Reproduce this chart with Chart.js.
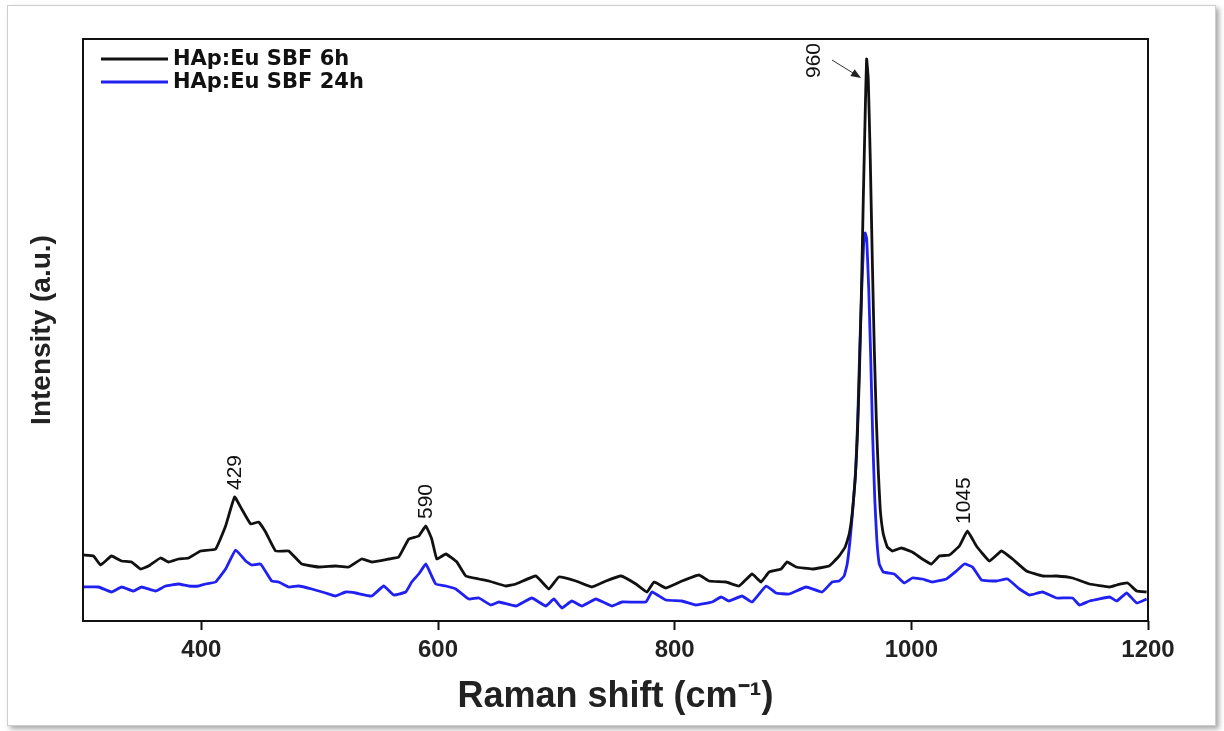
<!DOCTYPE html>
<html>
<head>
<meta charset="utf-8">
<title>Raman HAp:Eu SBF</title>
<script src="https://cdn.jsdelivr.net/npm/chart.js@4/dist/chart.umd.min.js"></script>
<style>
    html, body { margin: 0; padding: 0; background: #fff; }
    #frame {
        position: absolute; left: 7px; top: 5px; width: 1207px; height: 719px;
        border: 1px solid #cfcfcf; background: #fff;
        box-shadow: 3px 3px 5px rgba(0, 0, 0, 0.35);
    }
    #wrap { position: absolute; left: 0; top: 0; width: 1224px; height: 731px; }
</style>
</head>
<body>
<div id="frame"></div>
<div id="wrap"><canvas id="ramanChart" width="1224" height="731"></canvas></div>
<script>
// Raman shift (cm-1) / intensity (a.u.)
const shift6h = [300.4, 308.9, 314.8, 324.1, 332.6, 341.0, 348.6, 355.4, 365.5, 372.3,
    380.8, 389.2, 399.4, 412.1, 420.5, 428.1, 434.1, 441.7, 448.4, 454.3,
    462.8, 473.8, 484.8, 499.2, 513.5, 524.5, 535.5, 544.0, 558.4, 566.8,
    575.3, 583.8, 589.7, 594.7, 599.0, 606.6, 615.9, 623.5, 634.5, 643.0,
    657.3, 665.8, 682.7, 693.7, 702.1, 716.5, 730.0, 741.9, 754.6, 767.3,
    776.6, 782.5, 792.6, 806.2, 820.5, 829.0, 843.4, 854.4, 865.4, 873.0,
    879.8, 889.9, 895.0, 902.6, 916.2, 930.5, 939.0, 944.1, 947.5, 950.0,
    952.6, 954.3, 956.0, 957.7, 959.4, 961.1, 962.2, 963.6, 965.3, 967.0,
    968.7, 970.4, 972.0, 973.7, 976.3, 979.7, 983.9, 991.5, 1000.8, 1009.3,
    1016.9, 1023.7, 1032.1, 1040.6, 1047.4, 1055.0, 1066.0, 1076.2, 1085.5, 1097.3,
    1110.9, 1122.7, 1136.2, 1150.6, 1167.5, 1173.5, 1182.8, 1190.4, 1198.8];
const int6h = [66, 65, 56, 65, 60, 59, 52, 55, 63, 59,
    62, 63, 70, 72, 95, 124, 112, 97, 99, 89,
    70, 70, 57, 54, 55, 54, 62, 59, 62, 64,
    82, 85, 95, 82, 62, 67, 59, 45, 42, 40,
    35, 37, 45, 32, 44, 40, 34, 40, 45, 37,
    29, 39, 33, 40, 46, 40, 39, 35, 47, 39,
    49, 52, 59, 54, 52, 55, 65, 74, 87, 107,
    142, 182, 242, 322, 422, 512, 562, 542, 462, 362,
    272, 202, 152, 112, 87, 74, 70, 73, 69, 62,
    57, 65, 66, 75, 90, 75, 60, 70, 62, 50,
    45, 45, 43, 37, 34, 36, 38, 30, 29];

const shift24h = [300.4, 313.1, 324.1, 332.6, 342.7, 349.5, 361.3, 369.8, 380.8, 389.2,
    397.7, 403.6, 412.1, 420.5, 429.0, 437.5, 442.5, 450.1, 459.4, 465.3,
    473.8, 482.3, 493.3, 505.1, 513.5, 522.0, 530.5, 544.0, 554.1, 562.6,
    572.7, 577.8, 583.7, 589.7, 593.9, 598.1, 606.6, 615.0, 626.0, 634.5,
    644.6, 651.4, 665.8, 679.3, 691.1, 697.9, 704.7, 713.1, 721.6, 733.4,
    747.0, 755.4, 775.7, 780.8, 792.6, 806.2, 818.0, 831.6, 839.2, 845.9,
    856.9, 865.4, 877.3, 885.7, 896.7, 911.1, 924.6, 933.1, 939.0, 943.2,
    945.8, 948.3, 950.9, 953.0, 954.7, 956.4, 958.1, 959.7, 961.0, 962.3,
    964.0, 965.7, 967.4, 969.1, 970.8, 972.9, 976.3, 985.6, 994.1, 1000.8,
    1009.3, 1017.8, 1029.6, 1038.1, 1044.9, 1051.7, 1059.3, 1072.0, 1081.3, 1091.4,
    1099.9, 1110.9, 1122.7, 1136.2, 1142.1, 1150.6, 1167.5, 1173.5, 1182.0, 1190.4,
    1198.8];
const int24h = [34, 34, 29, 34, 30, 34, 30, 35, 37, 35,
    35, 37, 39, 52, 71, 60, 56, 57, 40, 39,
    34, 35, 32, 28, 25, 29, 28, 25, 35, 26,
    29, 39, 47, 57, 47, 37, 35, 32, 22, 23,
    16, 19, 15, 23, 15, 22, 13, 20, 15, 22,
    15, 19, 19, 29, 21, 20, 16, 19, 24, 20,
    25, 19, 35, 28, 27, 34, 29, 39, 40, 45,
    57, 82, 117, 152, 202, 272, 332, 377, 388, 382,
    332, 262, 182, 122, 82, 57, 49, 47, 38, 43,
    42, 39, 42, 50, 57, 54, 41, 40, 42, 32,
    26, 29, 23, 23, 16, 20, 24, 20, 28, 18,
    22];

const seriesNames = ['HAp:Eu SBF 6h', 'HAp:Eu SBF 24h'];
const seriesColors = ['#111111', '#2020f0'];
const xTicks = [400, 600, 800, 1000, 1200];

// pics annotés (position, intensité de la courbe 6h)
const peakShift = [429, 590, 960, 1045];
const peakInt = [124, 95, 562, 90];

const toPoints = (xs, ys) => xs.map((x, i) => ({ x: x, y: ys[i] }));

// cadre complet autour de la zone de tracé
const plotFrame = {
    id: 'plotFrame',
    afterDatasetsDraw(chart) {
        const { ctx, chartArea: a } = chart;
        ctx.save();
        ctx.strokeStyle = '#111';
        ctx.lineWidth = 2;
        ctx.strokeRect(a.left, a.top, a.right - a.left, a.bottom - a.top);
        ctx.restore();
    }
};

// étiquettes verticales des pics
const peakLabels = {
    id: 'peakLabels',
    afterDatasetsDraw(chart) {
        const { ctx, scales: { x, y } } = chart;
        ctx.save();
        ctx.font = '21px "Liberation Sans", Arial, sans-serif';
        ctx.fillStyle = '#111';
        ctx.textBaseline = 'middle';
        ctx.textAlign = 'left';
        peakShift.forEach((s, i) => {
            const px = x.getPixelForValue(s);
            const py = y.getPixelForValue(peakInt[i]);
            let tx = px, ty = py - 7;
            if (s === 960) { tx = px - 50; ty = py + 19; }
            ctx.save();
            ctx.translate(tx, ty);
            ctx.rotate(-Math.PI / 2);
            ctx.fillText(String(s), 0, 0);
            ctx.restore();
            if (s === 960) {
                // flèche vers le sommet
                const x0 = px - 32, y0 = py + 1, x1 = px - 3, y1 = py + 19;
                const ang = Math.atan2(y1 - y0, x1 - x0);
                ctx.strokeStyle = '#333';
                ctx.lineWidth = 1;
                ctx.beginPath();
                ctx.moveTo(x0, y0);
                ctx.lineTo(x1 - 8 * Math.cos(ang), y1 - 8 * Math.sin(ang));
                ctx.stroke();
                ctx.fillStyle = '#222';
                ctx.beginPath();
                ctx.moveTo(x1, y1);
                ctx.lineTo(x1 - 10 * Math.cos(ang) + 4 * Math.sin(ang), y1 - 10 * Math.sin(ang) - 4 * Math.cos(ang));
                ctx.lineTo(x1 - 10 * Math.cos(ang) - 4 * Math.sin(ang), y1 - 10 * Math.sin(ang) + 4 * Math.cos(ang));
                ctx.closePath();
                ctx.fill();
                ctx.fillStyle = '#111';
            }
        });
        ctx.restore();
    }
};

// légende dans le coin haut gauche
const insideLegend = {
    id: 'insideLegend',
    afterDraw(chart) {
        const { ctx, chartArea: a } = chart;
        ctx.save();
        ctx.font = 'bold 21px "DejaVu Sans", sans-serif';
        ctx.textBaseline = 'middle';
        chart.data.datasets.forEach((ds, i) => {
            const y = a.top + 20 + i * 23;
            ctx.strokeStyle = ds.borderColor;
            ctx.lineWidth = 3;
            ctx.beginPath();
            ctx.moveTo(a.left + 18, y);
            ctx.lineTo(a.left + 85, y);
            ctx.stroke();
            ctx.fillStyle = '#111';
            ctx.fillText(ds.label, a.left + 90, y + 1);
        });
        ctx.restore();
    }
};

new Chart(document.getElementById('ramanChart'), {
    type: 'line',
    data: {
        datasets: [{
            label: seriesNames[0],
            data: toPoints(shift6h, int6h),
            borderColor: seriesColors[0],
            borderWidth: 2.8,
            pointRadius: 0,
            tension: 0.1,
            fill: false
        }, {
            label: seriesNames[1],
            data: toPoints(shift24h, int24h),
            borderColor: seriesColors[1],
            borderWidth: 2.8,
            pointRadius: 0,
            tension: 0.1,
            fill: false
        }]
    },
    options: {
        responsive: false,
        animation: false,
        devicePixelRatio: 1,
        layout: { padding: { top: 39, right: 76, left: 0, bottom: 0 } },
        plugins: {
            legend: { display: false },
            tooltip: { enabled: false }
        },
        scales: {
            x: {
                type: 'linear',
                min: 300,
                max: 1200,
                afterBuildTicks: (scale) => { scale.ticks = xTicks.map(v => ({ value: v })); },
                afterFit: (scale) => { scale.height = 110; },
                ticks: {
                    color: '#222',
                    padding: 6,
                    callback: (v) => String(v),
                    font: { family: '"Liberation Sans", Arial, sans-serif', size: 24, weight: 'bold' }
                },
                grid: { drawOnChartArea: false, tickLength: 9, tickWidth: 2, tickColor: '#111' },
                border: { display: false },
                title: {
                    display: true,
                    text: 'Raman shift (cm\u207B\u00B9)',
                    color: '#222',
                    padding: { bottom: 12 },
                    font: { family: '"Liberation Sans", Arial, sans-serif', size: 36, weight: 'bold' }
                }
            },
            y: {
                min: 0,
                max: 582,
                afterFit: (scale) => { scale.width = 83; },
                ticks: { display: false },
                grid: { display: false },
                border: { display: false },
                title: {
                    display: true,
                    text: 'Intensity (a.u.)',
                    color: '#222',
                    padding: { top: 25 },
                    font: { family: '"Liberation Sans", Arial, sans-serif', size: 28, weight: 'bold' }
                }
            }
        }
    },
    plugins: [plotFrame, peakLabels, insideLegend]
});
</script>
</body>
</html>
